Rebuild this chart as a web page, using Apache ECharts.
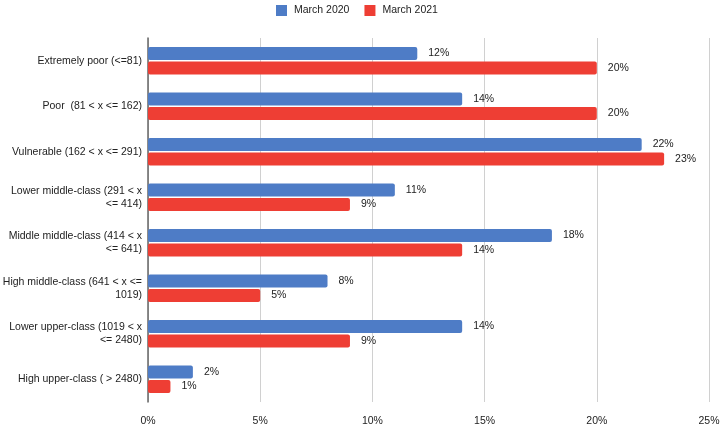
<!DOCTYPE html>
<html>
<head>
<meta charset="utf-8">
<script src="https://cdn.jsdelivr.net/npm/echarts@6/dist/echarts.min.js"></script>
<style>
  html, body { margin: 0; padding: 0; background: #fff; }
  #chart { width: 724px; height: 430px; }
</style>
</head>
<body>
<div id="chart"></div>
<script>
const categories = [
  "Extremely poor (<=81)",
  "Poor  (81 < x <= 162)",
  "Vulnerable (162 < x <= 291)",
  "Lower middle-class (291 < x\n<= 414)",
  "Middle middle-class (414 < x\n<= 641)",
  "High middle-class (641 < x <=\n1019)",
  "Lower upper-class (1019 < x\n<= 2480)",
  "High upper-class ( > 2480)"
];
const march2020 = [12, 14, 22, 11, 18, 8, 14, 2];
const march2021 = [20, 20, 23, 9, 14, 5, 9, 1];
const xTicks = [0, 5, 10, 15, 20, 25];

const chart = echarts.init(document.getElementById("chart"));

const barLabel = {
  show: true,
  position: "right",
  distance: 11,
  formatter: p => p.value + "%",
  color: "#222",
  fontSize: 10.5,
  fontFamily: "Liberation Sans, Arial"
};

const option = {
  animation: false,
  textStyle: { fontFamily: "Liberation Sans, Arial" },
  legend: {
    top: 0,
    left: 271,
    itemWidth: 11,
    itemHeight: 11,
    itemGap: 15,
    icon: "rect",
    textStyle: { color: "#222", fontSize: 10.5, padding: [0, 0, 0, 2] },
    data: ["March 2020", "March 2021"]
  },
  grid: { left: 148, right: 15, top: 38, bottom: 28, outerBoundsMode: "none", containLabel: false },
  xAxis: {
    type: "value",
    min: xTicks[0],
    max: xTicks[xTicks.length - 1],
    interval: 5,
    axisLine: { show: false },
    axisTick: { show: false },
    splitLine: { lineStyle: { color: "#d0d0d0" } },
    axisLabel: { formatter: "{value}%", color: "#222", fontSize: 10.5, margin: 14 }
  },
  yAxis: {
    type: "category",
    inverse: true,
    data: categories,
    axisLine: { lineStyle: { color: "#666", width: 1.5 } },
    axisTick: { show: false },
    axisLabel: { color: "#222", fontSize: 10.5, margin: 6, lineHeight: 13, align: "right" }
  },
  series: [
    {
      name: "March 2020",
      type: "bar",
      data: march2020,
      barWidth: 13,
      barGap: "12%",
      itemStyle: { color: "#4e7cc6", borderRadius: 2 },
      label: barLabel
    },
    {
      name: "March 2021",
      type: "bar",
      data: march2021,
      barWidth: 13,
      barGap: "12%",
      itemStyle: { color: "#ee3e34", borderRadius: 2 },
      label: barLabel
    }
  ]
};

chart.setOption(option);
</script>
</body>
</html>
